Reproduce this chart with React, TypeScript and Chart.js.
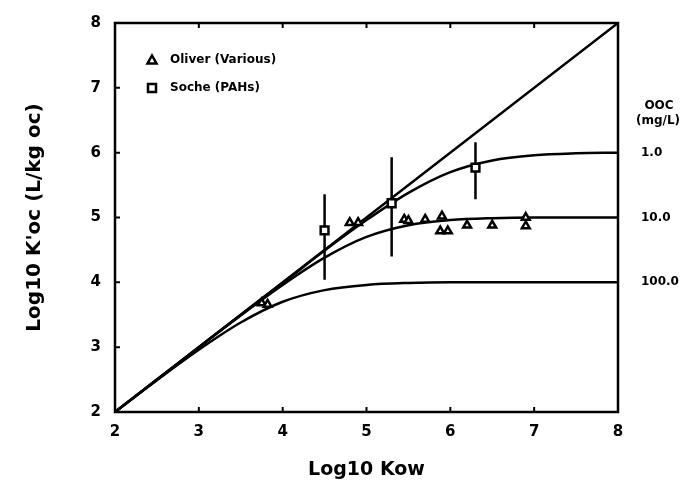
import React, { useEffect, useRef } from 'react';
import { Chart, registerables } from 'chart.js';

Chart.register(...registerables);

// ---- data ----
const kowGrid = [2, 2.5, 3, 3.5, 4, 4.5, 5, 5.5, 6, 6.5, 7, 7.5, 8];
const curveDoc1 = [2.0, 2.5, 3.0, 3.5, 3.99, 4.49, 4.96, 5.38, 5.7, 5.88, 5.96, 5.99, 6.0];
const curveDoc10 = [2.0, 2.5, 3.0, 3.49, 3.96, 4.38, 4.7, 4.88, 4.96, 4.99, 5.0, 5.0, 5.0];
const curveDoc100 = [2.0, 2.49, 2.96, 3.38, 3.7, 3.88, 3.96, 3.99, 4.0, 4.0, 4.0, 4.0, 4.0];

const unityX = [2, 8];
const unityY = [2, 8];

const oliverX = [3.75, 3.82, 4.8, 4.9, 5.45, 5.5, 5.7, 5.9, 5.88, 5.97, 6.2, 6.5, 6.9, 6.9];
const oliverY = [3.68, 3.66, 4.92, 4.92, 4.97, 4.95, 4.97, 5.02, 4.79, 4.79, 4.88, 4.88, 5.0, 4.87];

const socheX = [4.5, 5.3, 6.3];
const socheY = [4.8, 5.22, 5.77];
const socheLow = [4.04, 4.4, 5.28];
const socheHigh = [5.36, 5.93, 6.16];

const xTicks = [2, 3, 4, 5, 6, 7, 8];
const yTicks = [2, 3, 4, 5, 6, 7, 8];

const docHeader = ['OOC', '(mg/L)'];
const docLabels = ['1.0', '10.0', '100.0'];
const docLevels = [6, 5, 4];

const legendLabels = ['Oliver (Various)', 'Soche (PAHs)'];

const FONT = '"DejaVu Sans", "Liberation Sans", Arial, sans-serif';

const toPts = (xs: number[], ys: number[]) => xs.map((x, i) => ({ x, y: ys[i] }));

const errorBarPts = () => {
  const pts: any[] = [];
  socheX.forEach((x, i) => {
    pts.push({ x, y: socheLow[i] });
    pts.push({ x, y: socheHigh[i] });
    pts.push({ x, y: null });
  });
  return pts;
};

const framePlugin = {
  id: 'frameDecor',
  afterDraw(chart: any) {
    const { ctx, chartArea: a, scales } = chart;
    const xs = scales.x;
    const ys = scales.y;
    ctx.save();
    ctx.strokeStyle = '#000';
    ctx.lineWidth = 2.5;
    ctx.strokeRect(a.left, a.top, a.right - a.left, a.bottom - a.top);

    // inward ticks
    ctx.lineWidth = 2;
    ctx.beginPath();
    xTicks.forEach((v) => {
      const px = xs.getPixelForValue(v);
      ctx.moveTo(px, a.bottom);
      ctx.lineTo(px, a.bottom - 5);
      ctx.moveTo(px, a.top);
      ctx.lineTo(px, a.top + 5);
    });
    yTicks.forEach((v) => {
      const py = ys.getPixelForValue(v);
      ctx.moveTo(a.left, py);
      ctx.lineTo(a.left + 5, py);
    });
    ctx.stroke();

    // right-hand DOC labels
    ctx.fillStyle = '#000';
    ctx.font = 'bold 12px ' + FONT;
    ctx.textBaseline = 'middle';
    ctx.textAlign = 'left';
    docLevels.forEach((lv, i) => {
      ctx.fillText(docLabels[i], a.right + 23, ys.getPixelForValue(lv));
    });
    ctx.textAlign = 'center';
    const top6 = ys.getPixelForValue(docLevels[0]);
    ctx.fillText(docHeader[0], a.right + 41, top6 - 47);
    ctx.fillText(docHeader[1], a.right + 40, top6 - 32);

    // legend
    const lx = a.left + 37;
    const ly1 = a.top + 37;
    const ly2 = a.top + 65;
    ctx.lineWidth = 2.5;
    ctx.fillStyle = '#fff';
    ctx.beginPath();
    ctx.moveTo(lx, ly1 - 4.5);
    ctx.lineTo(lx + 4.5, ly1 + 3.5);
    ctx.lineTo(lx - 4.5, ly1 + 3.5);
    ctx.closePath();
    ctx.fill();
    ctx.stroke();
    ctx.beginPath();
    ctx.rect(lx - 4, ly2 - 4, 8, 8);
    ctx.fill();
    ctx.stroke();
    ctx.fillStyle = '#000';
    ctx.font = 'bold 12px ' + FONT;
    ctx.textAlign = 'left';
    ctx.textBaseline = 'middle';
    ctx.fillText(legendLabels[0], lx + 18, ly1);
    ctx.fillText(legendLabels[1], lx + 18, ly2);
    ctx.restore();
  },
};

export default function App() {
  const canvasRef = useRef<HTMLCanvasElement | null>(null);

  useEffect(() => {
    const canvas = canvasRef.current;
    if (!canvas) return;
    const lineStyle = {
      borderColor: '#000',
      borderWidth: 2.5,
      pointRadius: 0,
      fill: false,
      showLine: true,
      cubicInterpolationMode: 'monotone' as const,
    };
    const chart = new Chart(canvas, {
      type: 'scatter',
      data: {
        datasets: [
          {
            label: legendLabels[0],
            data: toPts(oliverX, oliverY),
            pointStyle: 'triangle',
            pointRadius: 4.5,
            borderColor: '#000',
            backgroundColor: '#fff',
            borderWidth: 2.5,
          },
          {
            label: legendLabels[1],
            data: toPts(socheX, socheY),
            pointStyle: 'rect',
            pointRadius: 5.5,
            borderColor: '#000',
            backgroundColor: '#fff',
            borderWidth: 2.5,
          },
          {
            label: 'error',
            data: errorBarPts(),
            showLine: true,
            spanGaps: false,
            borderColor: '#000',
            borderWidth: 2.5,
            pointRadius: 0,
          },
          { label: 'unity', data: toPts(unityX, unityY), ...lineStyle },
          { label: 'DOC 1', data: toPts(kowGrid, curveDoc1), ...lineStyle },
          { label: 'DOC 10', data: toPts(kowGrid, curveDoc10), ...lineStyle },
          { label: 'DOC 100', data: toPts(kowGrid, curveDoc100), ...lineStyle },
        ],
      },
      options: {
        animation: false,
        responsive: false,
        layout: { padding: { left: 0, top: 15, right: 65, bottom: 0 } },
        plugins: { legend: { display: false }, tooltip: { enabled: false } },
        scales: {
          x: {
            type: 'linear',
            min: 2,
            max: 8,
            afterFit: (s: any) => {
              s.height = 73;
            },
            afterBuildTicks: (s: any) => {
              s.ticks = xTicks.map((v) => ({ value: v }));
            },
            grid: { display: false, drawTicks: false },
            border: { display: false },
            ticks: {
              color: '#000',
              padding: 11,
              font: { family: FONT, size: 15, weight: 'bold' },
            },
            title: {
              display: true,
              text: 'Log10 Kow',
              color: '#000',
              font: { family: FONT, size: 19, weight: 'bold' },
              padding: { top: 0, bottom: 4 },
            },
          },
          y: {
            type: 'linear',
            min: 2,
            max: 8,
            afterFit: (s: any) => {
              s.width = 115;
            },
            afterBuildTicks: (s: any) => {
              s.ticks = yTicks.map((v) => ({ value: v }));
            },
            grid: { display: false, drawTicks: false },
            border: { display: false },
            ticks: {
              color: '#000',
              padding: 14,
              font: { family: FONT, size: 15, weight: 'bold' },
            },
            title: {
              display: true,
              text: "Log10 K'oc (L/kg oc)",
              color: '#000',
              font: { family: FONT, size: 20, weight: 'bold' },
              padding: { top: 23, bottom: 0 },
            },
          },
        },
      },
      plugins: [framePlugin],
    });
    return () => chart.destroy();
  }, []);

  return (
    <div style={{ position: 'fixed', left: 0, top: 0, width: 683, height: 485, background: '#fff' }}>
      <canvas ref={canvasRef} width={683} height={485} style={{ display: 'block' }} />
    </div>
  );
}
